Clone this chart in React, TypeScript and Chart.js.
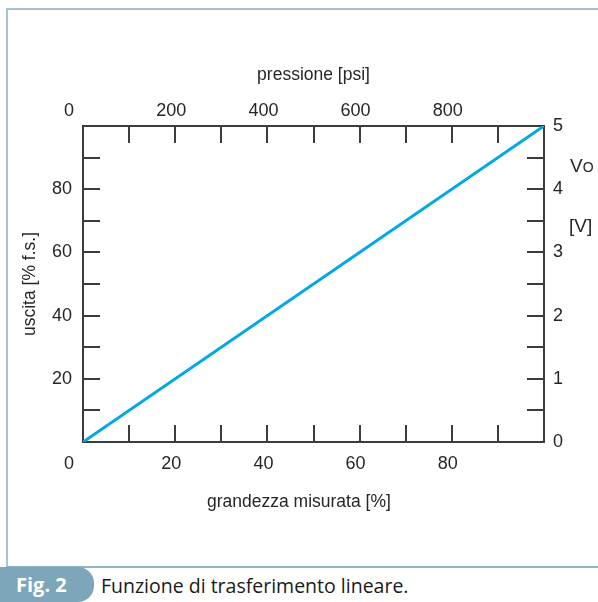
import React, { useEffect, useRef } from "react";
import { Chart, registerables } from "chart.js";

Chart.register(...registerables);

// ---- data ----
const measuredPct = [0, 100]; // grandezza misurata [%]
const outputPct = [0, 100]; // uscita [% f.s.]
const xLabelValues = [0, 20, 40, 60, 80];
const yLabelValues = [20, 40, 60, 80];
const psiLabelValues = [0, 200, 400, 600, 800];
const voltLabelValues = [0, 1, 2, 3, 4, 5];

const xTitle = "grandezza misurata [%]";
const yTitle = "uscita [% f.s.]";
const topTitle = "pressione [psi]";
const captionTag = "Fig. 2";
const captionText = "Funzione di trasferimento lineare.";

const AXIS = "#3c3c3c";
const TEXT = "#262626";
const LINE = "#00a9e6";
const FRAME = "#a8c3d2";
const TAGBG = "#7ea6ba";

const tickFont = { family: "'Liberation Sans Narrow', 'Liberation Sans', Arial, sans-serif", size: 18 };
const titleFont = { family: "'Liberation Sans', Arial, sans-serif", size: 17.5 };

function fmt(allowed: number[], v: number) {
  if (!allowed.includes(v)) return "";
  return v === 0 ? "0\u2007\u2007" : String(v);
}

function fmtPlain(allowed: number[], v: number) {
  return allowed.includes(v) ? String(v) : "";
}

export default function App() {
  const ref = useRef<HTMLCanvasElement | null>(null);

  useEffect(() => {
    if (!ref.current) return;
    const gridCommon = {
      drawOnChartArea: false,
      drawTicks: true,
      tickLength: -17,
      color: AXIS,
      lineWidth: 2,
    };
    const borderCommon = { display: true, color: AXIS, width: 2 };
    const chart = new Chart(ref.current, {
      type: "line",
      data: {
        datasets: [
          {
            data: measuredPct.map((x, i) => ({ x, y: outputPct[i] })),
            borderColor: LINE,
            borderWidth: 3,
            pointRadius: 0,
            fill: false,
            xAxisID: "x",
            yAxisID: "y",
          },
        ],
      },
      options: {
        animation: false,
        responsive: false,
        layout: { padding: 0 },
        plugins: { legend: { display: false }, tooltip: { enabled: false }, title: { display: false } },
        scales: {
          x: {
            type: "linear",
            position: "bottom",
            min: 0,
            max: 100,
            grid: gridCommon,
            border: borderCommon,
            ticks: {
              stepSize: 10,
              padding: 28,
              labelOffset: -4,
              maxRotation: 0,
              autoSkip: false,
              color: TEXT,
              font: tickFont,
              callback: (v: any) => fmt(xLabelValues, Number(v)),
            },
            title: {
              display: true,
              text: xTitle + "\u00a0\u00a0\u00a0\u00a0\u00a0\u00a0",
              color: TEXT,
              font: titleFont,
              padding: { top: 0, bottom: 53.5 },
            },
            afterFit: (s: any) => {
              s.height = 124;
            },
          },
          x2: {
            type: "linear",
            position: "top",
            min: 0,
            max: 1000,
            grid: gridCommon,
            border: borderCommon,
            ticks: {
              stepSize: 100,
              padding: 21,
              labelOffset: -4,
              maxRotation: 0,
              autoSkip: false,
              color: TEXT,
              font: tickFont,
              callback: (v: any) => fmt(psiLabelValues, Number(v)),
            },
            title: {
              display: true,
              text: topTitle,
              color: TEXT,
              font: titleFont,
              padding: { top: 64.5, bottom: 0 },
            },
            afterFit: (s: any) => {
              s.height = 126;
            },
          },
          y: {
            type: "linear",
            position: "left",
            min: 0,
            max: 100,
            grid: gridCommon,
            border: borderCommon,
            ticks: {
              stepSize: 10,
              padding: 28,
              autoSkip: false,
              color: TEXT,
              font: tickFont,
              callback: (v: any) => fmtPlain(yLabelValues, Number(v)),
            },
            title: {
              display: true,
              text: yTitle,
              color: TEXT,
              font: titleFont,
              padding: { top: 19.5, bottom: 0 },
            },
            afterFit: (s: any) => {
              s.width = 83;
            },
          },
          y2: {
            type: "linear",
            position: "right",
            min: 0,
            max: 5,
            grid: gridCommon,
            border: borderCommon,
            ticks: {
              stepSize: 0.5,
              padding: 26,
              autoSkip: false,
              color: TEXT,
              font: tickFont,
              callback: (v: any) => fmtPlain(voltLabelValues, Number(v)),
            },
            afterFit: (s: any) => {
              s.width = 54;
            },
          },
        },
      },
    } as any);
    return () => chart.destroy();
  }, []);

  const narrow = "'Liberation Sans Narrow', 'Liberation Sans', Arial, sans-serif";

  return (
    <div
      style={{
        position: "fixed",
        left: 0,
        top: 0,
        width: 598,
        height: 602,
        background: "#ffffff",
        overflow: "hidden",
      }}
    >
      {/* frame */}
      <div style={{ position: "absolute", left: 6, top: 8, width: 592, height: 2, background: FRAME }} />
      <div style={{ position: "absolute", left: 6, top: 8, width: 2, height: 559, background: FRAME }} />
      <div style={{ position: "absolute", left: 6, top: 566, width: 592, height: 1.5, background: "#8fb4c8" }} />

      <canvas
        ref={ref}
        width={598}
        height={566}
        style={{ position: "absolute", left: 0, top: 0, width: 598, height: 566 }}
      />

      {/* right axis title */}
      <div
        style={{
          position: "absolute",
          left: 570,
          top: 156,
          fontFamily: narrow,
          fontSize: 19,
          lineHeight: "19px",
          color: TEXT,
          whiteSpace: "nowrap",
        }}
      >
        V<span style={{ fontSize: 14 }}>O</span>
      </div>
      <div
        style={{
          position: "absolute",
          left: 569,
          top: 216,
          fontFamily: narrow,
          fontSize: 19,
          lineHeight: "19px",
          color: TEXT,
          whiteSpace: "nowrap",
        }}
      >
        [V]
      </div>

      {/* caption */}
      <div
        style={{
          position: "absolute",
          left: 0,
          top: 567,
          width: 94,
          height: 35,
          background: TAGBG,
          borderTopRightRadius: 16,
          borderBottomRightRadius: 16,
        }}
      />
      <div
        style={{
          position: "absolute",
          left: 16,
          top: 575,
          fontFamily: "'Open Sans', 'Noto Sans', sans-serif",
          fontWeight: 700,
          fontSize: 20,
          lineHeight: "20px",
          color: "#ffffff",
          whiteSpace: "nowrap",
        }}
      >
        {captionTag}
      </div>
      <div
        style={{
          position: "absolute",
          left: 101,
          top: 576,
          fontFamily: "'Open Sans', 'Noto Sans', sans-serif",
          fontSize: 19.5,
          lineHeight: "19px",
          color: "#1a1a1a",
          whiteSpace: "nowrap",
        }}
      >
        {captionText}
      </div>
    </div>
  );
}
